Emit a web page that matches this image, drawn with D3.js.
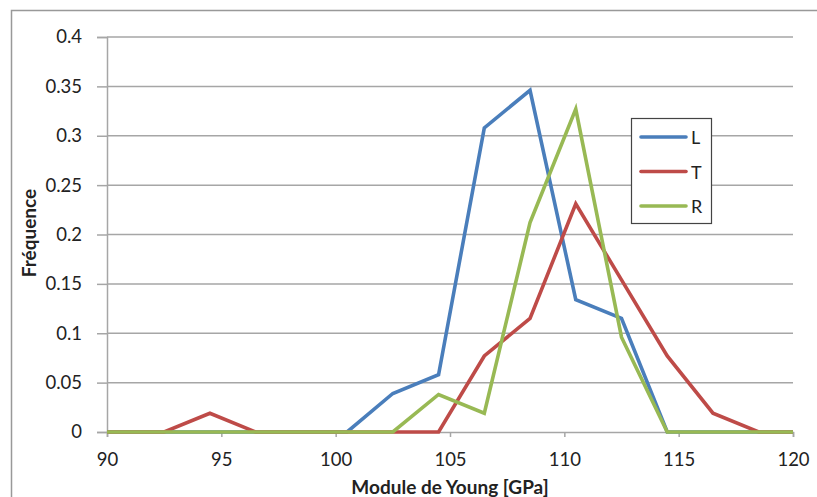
<!DOCTYPE html>
<html><head><meta charset="utf-8">
<script src="https://cdn.jsdelivr.net/npm/d3@7"></script>
<style>body{margin:0;background:#fff;} text{font-family:Lato,"Open Sans",sans-serif;fill:#222;}</style>
</head><body><svg id="c" width="817" height="497"></svg>
<script>
const xs = [90, 92.5, 94.5, 96.5, 98.5, 100.5, 102.5, 104.5, 106.5, 108.5, 110.5, 112.5, 114.5, 116.5, 118.5, 120];
const seriesL = [0, 0, 0, 0, 0, 0, 0.039, 0.058, 0.308, 0.346, 0.134, 0.115, 0, 0, 0, 0];
const seriesT = [0, 0, 0.019, 0, 0, 0, 0, 0, 0.077, 0.115, 0.231, 0.154, 0.077, 0.019, 0, 0];
const seriesR = [0, 0, 0, 0, 0, 0, 0, 0.038, 0.019, 0.212, 0.327, 0.096, 0, 0, 0, 0];
const seriesNames = ["L", "T", "R"];
const colors = ["#4a7ebb", "#be4b48", "#98b954"];
const xTicks = [90, 95, 100, 105, 110, 115, 120];
const yTicks = [0, 0.05, 0.1, 0.15, 0.2, 0.25, 0.3, 0.35, 0.4];
const yTickLabels = ["0", "0.05", "0.1", "0.15", "0.2", "0.25", "0.3", "0.35", "0.4"];

const svg = d3.select("#c");
svg.append("rect").attr("x", 11.5).attr("y", 10.5).attr("width", 830).attr("height", 520)
  .attr("fill", "none").attr("stroke", "#999").attr("stroke-width", 1.5);

const x = d3.scaleLinear().domain([90, 120]).range([107, 793]);
const y = d3.scaleLinear().domain([0, 0.4]).range([432, 37]);

svg.append("g").selectAll("line").data(yTicks.slice(1)).join("line")
  .attr("x1", 107).attr("x2", 793).attr("y1", d => y(d)).attr("y2", d => y(d))
  .attr("stroke", "#a6a6a6").attr("stroke-width", 1.5);

const ya = svg.append("g").attr("transform", "translate(107,0)")
  .call(d3.axisLeft(y).tickValues(yTicks).tickFormat((d, i) => yTickLabels[i]).tickSize(10).tickPadding(15));
ya.select(".domain").attr("stroke", "#a6a6a6").attr("stroke-width", 1.5);
ya.selectAll(".tick line").attr("stroke", "#a6a6a6").attr("stroke-width", 1.5);
ya.selectAll("text").attr("font-size", 18.5).attr("font-family", "Lato,sans-serif").attr("fill", "#222");

const xa = svg.append("g").attr("transform", "translate(0,432)")
  .call(d3.axisBottom(x).tickValues(xTicks).tickSize(5).tickPadding(16));
xa.select(".domain").attr("stroke", "#a6a6a6").attr("stroke-width", 1.5);
xa.selectAll(".tick line").attr("stroke", "#a6a6a6").attr("stroke-width", 1.5);
xa.selectAll("text").attr("font-size", 18.5).attr("font-family", "Lato,sans-serif").attr("fill", "#222");

const data = [seriesL, seriesT, seriesR];
const line = d3.line().x((d, i) => x(xs[i])).y(d => y(d));
data.forEach((s, k) => {
  svg.append("path").datum(s).attr("d", line).attr("fill", "none")
    .attr("stroke", colors[k]).attr("stroke-width", 3.6).attr("stroke-linejoin", "miter");
});

svg.append("text").attr("x", 450).attr("y", 494).attr("text-anchor", "middle")
  .attr("font-size", 19).attr("font-weight", "bold").text("Module de Young [GPa]");
svg.append("text").attr("transform", "translate(36,233) rotate(-90)").attr("text-anchor", "middle")
  .attr("font-size", 19).attr("font-weight", "bold").text("Fréquence");

const lg = svg.append("g");
lg.append("rect").attr("x", 631.5).attr("y", 118.5).attr("width", 80).attr("height", 105)
  .attr("fill", "#fff").attr("stroke", "#444").attr("stroke-width", 1.2);
seriesNames.forEach((n, k) => {
  const yy = 137 + k * 34.5;
  lg.append("line").attr("x1", 641).attr("x2", 686).attr("y1", yy).attr("y2", yy)
    .attr("stroke", colors[k]).attr("stroke-width", 3.6).attr("stroke-linecap", "round");
  lg.append("text").attr("x", 691).attr("y", yy + 7).attr("font-size", 18).text(n);
});
</script></body></html>
